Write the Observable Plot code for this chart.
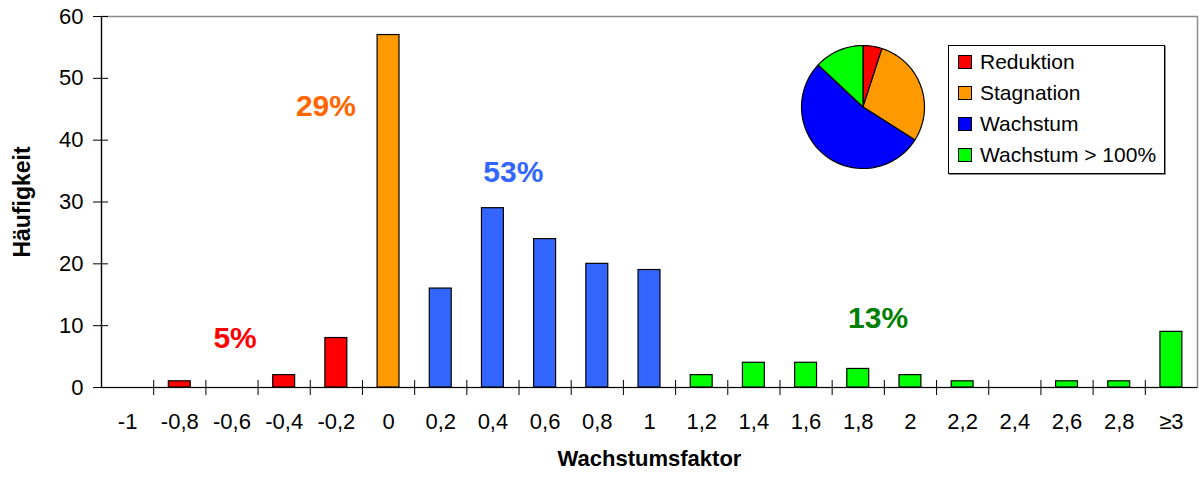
<!DOCTYPE html>
<html>
<head>
<meta charset="utf-8">
<script src="https://cdn.jsdelivr.net/npm/d3@7"></script>
<script src="https://cdn.jsdelivr.net/npm/@observablehq/plot@0.6"></script>
<style>
  html, body { margin: 0; padding: 0; background: #fff; }
  #wrap { position: relative; width: 1199px; height: 477px; font-family: "Liberation Sans", Arial, sans-serif; }
  #pie { position: absolute; left: 800px; top: 44px; }
  #legend { position: absolute; left: 948px; top: 45px; width: 215px; height: 127px; border: 1px solid #000;
            box-shadow: 1px 1px 0 #888; background: #fff; padding-top: 0px; box-sizing: content-box; }
  .row { display: flex; align-items: center; height: 31px; font-size: 21px; color: #000; }
  .sw { width: 12px; height: 12px; border: 1px solid #000; margin-left: 9px; margin-right: 8px; }
</style>
</head>
<body>
<div id="wrap"></div>
<script>
// ---- data ----
const categories = ["-1","-0,8","-0,6","-0,4","-0,2","0","0,2","0,4","0,6","0,8","1","1,2","1,4","1,6","1,8","2","2,2","2,4","2,6","2,8","\u22653"];
const counts     = [0, 1, 0, 2, 8, 57, 16, 29, 24, 20, 19, 2, 4, 4, 3, 2, 1, 0, 1, 1, 9];
const groupOf    = ["R","R","R","R","R","S","W","W","W","W","W","G","G","G","G","G","G","G","G","G","G"];
const groupKeys  = ["R","S","W","G"];
const groupNames = ["Reduktion","Stagnation","Wachstum","Wachstum > 100%"];
const barColors  = ["#FF0000","#FF9900","#3366FF","#00FF00"];
const pieColors  = ["#FF0000","#FF9900","#0000FF","#00FF00"];
const piePercent = [5, 29, 53, 13];
const yTicks     = [0, 10, 20, 30, 40, 50, 60];
// percentage annotations: [label, category position, value position, colour]
const annLabels  = ["5%", "29%", "53%", "13%"];
const annX       = [2.06, 3.8, 7.39, 14.38];
const annY       = [7.9, 45.4, 34.8, 11.2];
const annColors  = ["#FF0000", "#FF6600", "#3366FF", "#008000"];

// ---- derived tables ----
const bars = categories.map((c, i) => ({
  i, label: c, count: counts[i],
  color: barColors[groupKeys.indexOf(groupOf[i])]
})).filter(d => d.count > 0);
const bounds = d3.range(1, categories.length).map(i => i - 0.5);
const ann = annLabels.map((t, k) => ({t, x: annX[k], y: annY[k], c: annColors[k]}));

const font = "'Liberation Sans', Arial, sans-serif";

const chart = Plot.plot({
  width: 1199, height: 477,
  marginLeft: 101, marginRight: 2, marginTop: 16, marginBottom: 90,
  style: {fontFamily: font, fontSize: "22px", color: "#000", background: "#fff", overflow: "visible"},
  x: {type: "linear", domain: [-0.5, categories.length - 0.5]},
  y: {domain: [0, 60]},
  marks: [
    Plot.frame({stroke: "#8c8c8c", strokeWidth: 1.5}),
    Plot.rectY(bars, {x1: d => d.i - 0.21, x2: d => d.i + 0.21, y: "count", fill: "color", stroke: "#000", strokeWidth: 1.2}),
    Plot.ruleY([0], {stroke: "#000", strokeWidth: 1.2}),
    Plot.ruleX([-0.5], {stroke: "#000", strokeWidth: 1.2}),
    Plot.ruleX(bounds, {y1: 0, y2: 0, insetTop: -7, insetBottom: -8, stroke: "#000", strokeWidth: 1}),
    Plot.ruleY(yTicks, {x1: -0.5, x2: -0.5, insetLeft: -8, insetRight: -7, stroke: "#000", strokeWidth: 1}),
    Plot.axisY(yTicks, {tickSize: 0, tickPadding: 18, label: null, fontSize: 22}),
    Plot.axisX(d3.range(categories.length), {tickSize: 0, tickPadding: 26, label: null, tickFormat: i => categories[i], fontSize: 22}),
    Plot.text(["Häufigkeit"], {frameAnchor: "left", textAnchor: "middle", dx: -79, rotate: -90, fontWeight: "bold", fontSize: 23}),
    Plot.text(["Wachstumsfaktor"], {frameAnchor: "bottom", dy: 78, fontWeight: "bold", fontSize: 22}),
    Plot.text(ann, {x: "x", y: "y", text: "t", fill: "c", fontSize: 30, fontWeight: "bold"})
  ]
});

// ---- pie ----
const arcs = d3.pie().sort(null).value(d => d)(piePercent);
const piePts = [];
arcs.forEach((a, k) => {
  const key = groupKeys[k];
  piePts.push({x: 0, y: 0, key});
  const n = Math.max(2, Math.ceil((a.endAngle - a.startAngle) / (Math.PI * 2) * 120));
  for (let j = 0; j <= n; j++) {
    const t = a.startAngle + (a.endAngle - a.startAngle) * j / n;
    piePts.push({x: Math.sin(t), y: Math.cos(t), key});
  }
  piePts.push({x: 0, y: 0, key});
});
const pie = Plot.plot({
  width: 125, height: 125, margin: 1,
  x: {domain: [-1, 1], axis: null},
  y: {domain: [-1, 1], axis: null},
  color: {domain: groupKeys, range: pieColors},
  style: {background: "transparent", overflow: "visible"},
  marks: [
    Plot.line(piePts, {x: "x", y: "y", z: "key", fill: "key", stroke: "#000", strokeWidth: 1.2, curve: "linear", strokeLinejoin: "round"})
  ]
});
pie.id = "pie";

// ---- legend ----
const legend = document.createElement("div");
legend.id = "legend";
groupNames.forEach((name, k) => {
  const row = document.createElement("div");
  row.className = "row";
  const sw = document.createElement("span");
  sw.className = "sw";
  sw.style.background = pieColors[k];
  const tx = document.createElement("span");
  tx.textContent = name;
  row.appendChild(sw); row.appendChild(tx);
  legend.appendChild(row);
});

const wrap = document.getElementById("wrap");
wrap.appendChild(chart);
wrap.appendChild(pie);
wrap.appendChild(legend);
</script>
</body>
</html>
